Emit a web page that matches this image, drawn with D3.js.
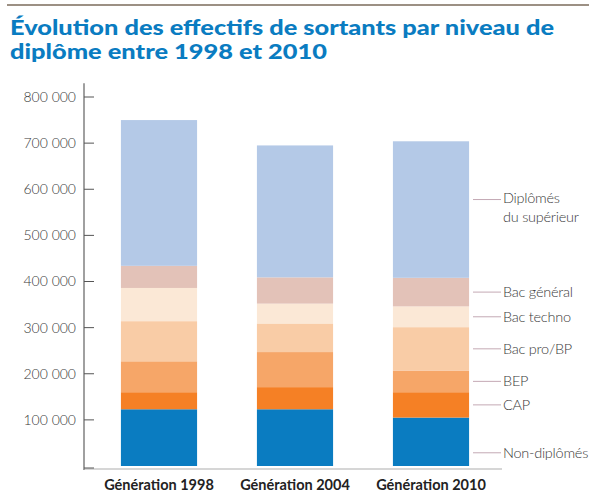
<!DOCTYPE html>
<html>
<head>
<meta charset="utf-8">
<style>
  body { margin: 0; background: #fff; }
  svg text { font-family: Lato, "Open Sans", sans-serif; }
</style>
</head>
<body>
<div id="chart"></div>
<script src="https://d3js.org/d3.v7.min.js"></script>
<script>
// effectifs de sortants, en milliers
var generations = ["Génération 1998", "Génération 2004", "Génération 2010"];
var niveaux = ["Non-diplômés", "CAP", "BEP", "Bac pro/BP", "Bac techno", "Bac général", "Diplômés du supérieur"];
var nonDiplomes = [123, 123, 105];
var cap         = [37, 48, 55];
var bep         = [67, 76, 47];
var bacPro      = [87, 62, 94];
var bacTechno   = [72, 43, 45];
var bacGeneral  = [48, 57, 62];
var superieur   = [316, 286, 296];
var yTicks = [100000, 200000, 300000, 400000, 500000, 600000, 700000, 800000];

var colors = ["#0a7cc1", "#f58025", "#f6a668", "#f9cca6", "#fbe8d6", "#e3c2b8", "#b4c9e7"];

var width = 589, height = 493;
var svg = d3.select("#chart").append("svg")
  .attr("width", width)
  .attr("height", height);

// filet du haut
svg.append("line")
  .attr("x1", 7).attr("x2", width).attr("y1", 5).attr("y2", 5)
  .attr("stroke", "#7b6b5b").attr("stroke-width", 1.5);

// titre
var title = ["Évolution des effectifs de sortants par niveau de", "diplôme entre 1998 et 2010"];
svg.selectAll(".title").data(title).enter().append("text")
  .attr("class", "title")
  .attr("x", 10)
  .attr("y", function(d, i) { return 35 + i * 24; })
  .attr("textLength", function(d, i) { return i == 0 ? 544 : 317; })
  .attr("lengthAdjust", "spacingAndGlyphs")
  .style("font-size", "21px")
  .style("font-weight", 900)
  .style("fill", "#0a7cc1")
  .text(function(d) { return d; });

// rows for stacking
var series = [nonDiplomes, cap, bep, bacPro, bacTechno, bacGeneral, superieur];
var rows = generations.map(function(g, i) {
  var r = { gen: g };
  niveaux.forEach(function(n, j) { r[n] = series[j][i] * 1000; });
  return r;
});
var stacked = d3.stack().keys(niveaux)(rows);

var x = d3.scaleBand().domain(generations).range([91, 499])
  .paddingInner(0.44).paddingOuter(0.22);
var y = d3.scaleLinear().domain([0, 800000]).range([466, 97]);

var fmt = d3.formatLocale({ decimal: ",", thousands: " ", grouping: [3], currency: ["", " €"] }).format(",d");

// bars
svg.selectAll(".layer").data(stacked).enter().append("g")
  .attr("class", "layer")
  .attr("fill", function(d, i) { return colors[i]; })
  .selectAll("rect").data(function(d) { return d; })
  .enter().append("rect")
  .attr("x", function(d) { return x(d.data.gen); })
  .attr("width", x.bandwidth())
  .attr("y", function(d) { return y(d[1]); })
  .attr("height", function(d) { return y(d[0]) - y(d[1]); });

// baseline
svg.append("line")
  .attr("x1", 84).attr("x2", 502)
  .attr("y1", y(0) + 3).attr("y2", y(0) + 3)
  .attr("stroke", "#c8c8c8").attr("stroke-width", 1.5);

// axe vertical
var axisX = 84;
svg.append("line")
  .attr("x1", axisX).attr("x2", axisX)
  .attr("y1", y(830000)).attr("y2", y(0) + 4)
  .attr("stroke", "#a0a0a0").attr("stroke-width", 2);

svg.selectAll(".tick").data([0].concat(yTicks)).enter().append("line")
  .attr("class", "tick")
  .attr("x1", axisX).attr("x2", axisX + 10)
  .attr("y1", function(d) { return d == 0 ? y(d) + 2 : y(d); })
  .attr("y2", function(d) { return d == 0 ? y(d) + 2 : y(d); })
  .attr("stroke", "#555").attr("stroke-width", 1);

svg.selectAll(".ylab").data(yTicks).enter().append("text")
  .attr("class", "ylab")
  .attr("x", 76)
  .attr("y", function(d) { return y(d); })
  .attr("dy", "0.35em")
  .attr("text-anchor", "end")
  .style("font-size", "14px")
  .style("font-weight", 300)
  .style("fill", "#3a3a3a")
  .text(function(d) { return fmt(d); });

// libellés des générations
svg.selectAll(".xlab").data(generations).enter().append("text")
  .attr("class", "xlab")
  .attr("x", function(d) { return x(d) + x.bandwidth() / 2; })
  .attr("y", 490)
  .attr("text-anchor", "middle")
  .style("font-size", "14.5px")
  .style("font-weight", "bold")
  .style("fill", "#222")
  .text(function(d) { return d; });

// légende à droite, alignée sur la dernière barre
var nudge = { "Non-diplômés": 11, "Diplômés du supérieur": -10 };
var last = generations.length - 1;
var legend = svg.selectAll(".leg").data(stacked).enter().append("g")
  .attr("class", "leg")
  .attr("transform", function(d) {
    var mid = (y(d[last][0]) + y(d[last][1])) / 2 + (nudge[d.key] || 0);
    return "translate(0," + mid + ")";
  });

legend.append("line")
  .attr("x1", 473).attr("x2", 501)
  .attr("stroke", "#c4a9b4").attr("stroke-width", 1);

legend.each(function(d) {
  var g = d3.select(this);
  var lines = d.key == "Diplômés du supérieur" ? ["Diplômés", "du supérieur"] : [d.key];
  lines.forEach(function(l, i) {
    g.append("text")
      .attr("x", 503)
      .attr("y", lines.length > 1 ? -2 + i * 19 : 0)
      .attr("dy", "0.35em")
      .style("font-size", "14.5px")
      .style("font-weight", 300)
      .style("letter-spacing", "-0.25px")
      .style("fill", "#3a3a3a")
      .text(l);
  });
});
</script>
</body>
</html>
